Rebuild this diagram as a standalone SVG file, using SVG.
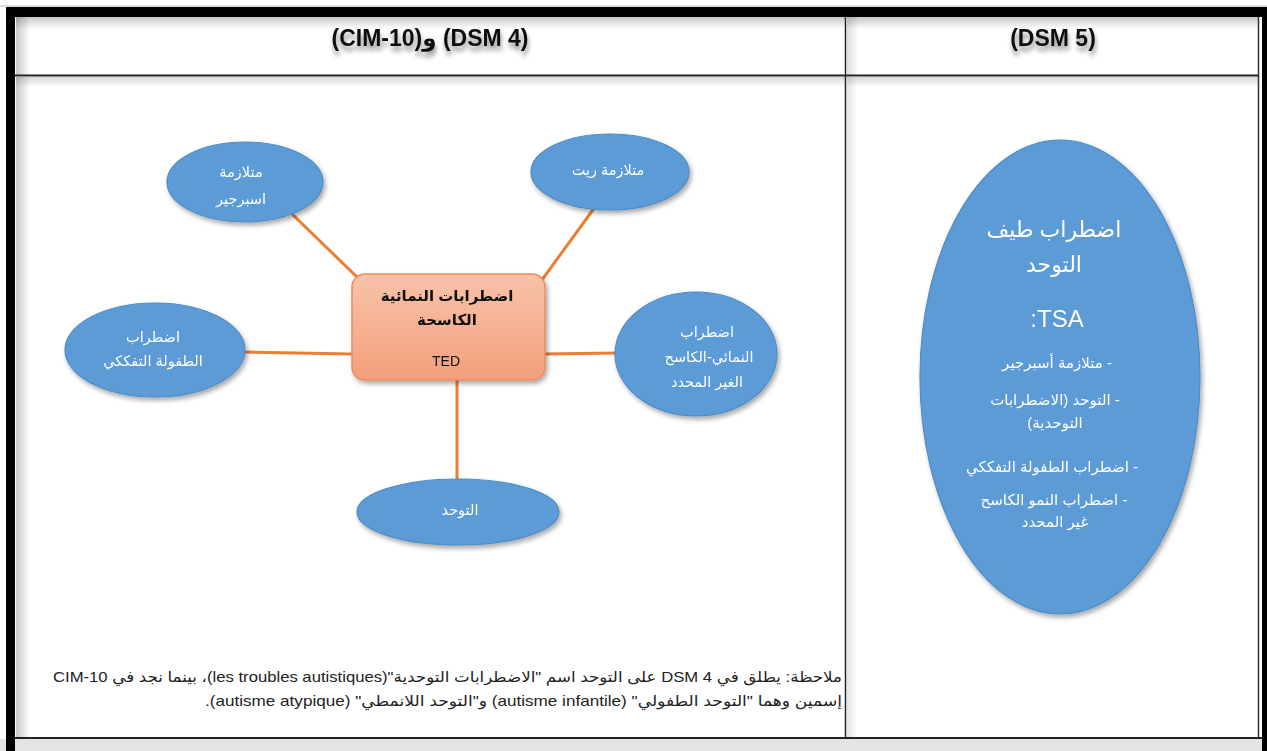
<svg xmlns="http://www.w3.org/2000/svg" width="1267" height="751" viewBox="0 0 1267 751">
  <style>
    .ar { font-family: "Liberation Sans", "DejaVu Sans", sans-serif; }
    .hdr { font-family: "Liberation Sans", "DejaVu Sans", sans-serif; font-weight: bold; font-size: 23px; fill: #111; }
    .bubble { fill: #5b9bd5; stroke: #4f8cc6; stroke-width: 1.2; }
    .btxt { font-family: "Liberation Sans", "DejaVu Sans", sans-serif; font-size: 14.5px; fill: #ffffff; text-anchor: middle; }
    .big { font-family: "Liberation Sans", "DejaVu Sans", sans-serif; fill: #ffffff; text-anchor: middle; }
    .link { stroke: #ed7d31; stroke-width: 3; fill: none; }
    .note { font-family: "Liberation Sans", "DejaVu Sans", sans-serif; font-size: 15px; fill: #222; }
  </style>
  <defs>
    <linearGradient id="rectFill" x1="0" y1="0" x2="0" y2="1">
      <stop offset="0" stop-color="#f8c3aa"/>
      <stop offset="1" stop-color="#f39f7b"/>
    </linearGradient>
    <linearGradient id="shadeLeft" x1="0" y1="0" x2="1" y2="0">
      <stop offset="0" stop-color="#000" stop-opacity="0.22"/>
      <stop offset="1" stop-color="#000" stop-opacity="0"/>
    </linearGradient>
    <linearGradient id="shadeTop" x1="0" y1="0" x2="0" y2="1">
      <stop offset="0" stop-color="#000" stop-opacity="0.22"/>
      <stop offset="1" stop-color="#000" stop-opacity="0"/>
    </linearGradient>
    <filter id="drop" x="-20%" y="-20%" width="150%" height="150%">
      <feGaussianBlur in="SourceAlpha" stdDeviation="2.5"/>
      <feOffset dx="2" dy="3" result="b"/>
      <feComponentTransfer><feFuncA type="linear" slope="0.35"/></feComponentTransfer>
      <feMerge><feMergeNode/><feMergeNode in="SourceGraphic"/></feMerge>
    </filter>
    <filter id="textShadow" x="-10%" y="-50%" width="120%" height="220%">
      <feGaussianBlur in="SourceAlpha" stdDeviation="2.5"/>
      <feOffset dx="1" dy="5"/>
      <feComponentTransfer><feFuncA type="linear" slope="0.45"/></feComponentTransfer>
      <feMerge><feMergeNode/><feMergeNode in="SourceGraphic"/></feMerge>
    </filter>
  </defs>

  <!-- page -->
  <rect x="0" y="0" width="1267" height="751" fill="#ffffff"/>

  <!-- table frame -->
  <g id="table">
    <rect x="0" y="739" width="1267" height="12" fill="#e4e4e4"/>
    <!-- soft inner shading of the cells -->
    <rect x="16" y="17" width="14" height="58" fill="url(#shadeLeft)"/>
    <rect x="16" y="17" width="829" height="12" fill="url(#shadeTop)"/>
    <rect x="847" y="17" width="12" height="58" fill="url(#shadeLeft)" opacity="0.6"/>
    <rect x="847" y="17" width="411" height="12" fill="url(#shadeTop)"/>
    <rect x="16" y="77" width="14" height="660" fill="url(#shadeLeft)"/>
    <rect x="16" y="77" width="829" height="10" fill="url(#shadeTop)" opacity="0.7"/>
    <rect x="847" y="77" width="10" height="660" fill="url(#shadeLeft)" opacity="0.5"/>
    <rect x="847" y="77" width="411" height="10" fill="url(#shadeTop)" opacity="0.7"/>
    <!-- outer heavy border -->
    <line x1="0" y1="6" x2="1267" y2="6" stroke="#bdbdbd" stroke-width="1"/>
    <rect x="6" y="7" width="1261" height="10" fill="#000"/>
    <rect x="6" y="7" width="9" height="744" fill="#000"/>
    <rect x="1262" y="7" width="5" height="744" fill="#000"/>
    <line x1="1258.5" y1="17" x2="1258.5" y2="739" stroke="#333" stroke-width="1.5"/>
    <!-- rules -->
    <line x1="15" y1="75.5" x2="1259" y2="75.5" stroke="#222" stroke-width="2"/>
    <line x1="845.5" y1="17" x2="845.5" y2="738" stroke="#222" stroke-width="1.5"/>
    <line x1="15" y1="738" x2="1262" y2="738" stroke="#222" stroke-width="2"/>
  </g>

  <!-- column headings -->
  <g id="headings" filter="url(#textShadow)">
    <text class="hdr" x="430" y="46" text-anchor="middle" direction="rtl">(DSM 4) و(CIM-10)</text>
    <text class="hdr" x="1053" y="46" text-anchor="middle">(DSM 5)</text>
  </g>

  <!-- connectors from the central box -->
  <g id="connectors">
    <line class="link" x1="358" y1="278" x2="292" y2="214"/>
    <line class="link" x1="539" y1="284" x2="595" y2="207"/>
    <line class="link" x1="244" y1="352" x2="352" y2="354"/>
    <line class="link" x1="545" y1="354" x2="617" y2="353"/>
    <line class="link" x1="457" y1="380" x2="457" y2="481"/>
  </g>

  <!-- central node -->
  <g id="ted" filter="url(#drop)">
    <rect x="352" y="274" width="193" height="106" rx="13" fill="url(#rectFill)" stroke="#f08a5d" stroke-width="1.5"/>
    <text class="ar" x="447" y="301" text-anchor="middle" font-size="15" font-weight="bold" fill="#111" direction="rtl">اضطرابات النمائية</text>
    <text class="ar" x="447" y="325" text-anchor="middle" font-size="15" font-weight="bold" fill="#111" direction="rtl">الكاسحة</text>
    <text class="ar" x="446" y="366" text-anchor="middle" font-size="14" fill="#111">TED</text>
  </g>

  <!-- surrounding nodes -->
  <g id="asperger" filter="url(#drop)">
    <ellipse class="bubble" cx="245" cy="182" rx="78" ry="40"/>
    <text class="btxt" x="241" y="177" direction="rtl">متلازمة</text>
    <text class="btxt" x="241" y="204" direction="rtl">اسبرجير</text>
  </g>

  <g id="rett" filter="url(#drop)">
    <ellipse class="bubble" cx="610" cy="172" rx="79" ry="38"/>
    <text class="btxt" x="608" y="175" direction="rtl">متلازمة ريت</text>
  </g>

  <g id="cdd" filter="url(#drop)">
    <ellipse class="bubble" cx="155" cy="350" rx="90" ry="47"/>
    <text class="btxt" x="153" y="342" direction="rtl">اضطراب</text>
    <text class="btxt" x="153" y="366" direction="rtl">الطفولة التفككي</text>
  </g>

  <g id="pddnos" filter="url(#drop)">
    <ellipse class="bubble" cx="696" cy="354" rx="81" ry="62"/>
    <text class="btxt" x="707" y="337" direction="rtl">اضطراب</text>
    <text class="btxt" x="709" y="362" direction="rtl">النمائي-الكاسح</text>
    <text class="btxt" x="707" y="387" direction="rtl">الغير المحدد</text>
  </g>

  <g id="autism" filter="url(#drop)">
    <ellipse class="bubble" cx="458" cy="512" rx="101" ry="33"/>
    <text class="btxt" x="460" y="515" direction="rtl">التوحد</text>
  </g>

  <!-- DSM 5 node -->
  <g id="tsa" filter="url(#drop)">
    <ellipse class="bubble" cx="1060" cy="377" rx="140" ry="237"/>
    <text class="big" x="1054" y="237" font-size="22" direction="rtl">اضطراب طيف</text>
    <text class="big" x="1054" y="272" font-size="22" direction="rtl">التوحد</text>
    <text class="big" x="1057" y="327" font-size="24" direction="rtl">TSA:</text>
    <text class="big" x="1057" y="368" font-size="15" direction="rtl">-  متلازمة أسبرجير</text>
    <text class="big" x="1055" y="405" font-size="15" direction="rtl">- التوحد (الاضطرابات</text>
    <text class="big" x="1055" y="428" font-size="15" direction="rtl">التوحدية)</text>
    <text class="big" x="1052" y="472" font-size="15" direction="rtl">- اضطراب الطفولة التفككي</text>
    <text class="big" x="1054" y="505" font-size="15" direction="rtl">- اضطراب النمو الكاسح</text>
    <text class="big" x="1055" y="527" font-size="15" direction="rtl">غير المحدد</text>
  </g>

  <!-- footnote -->
  <g id="note">
    <text class="note" x="842" y="682" text-anchor="start" direction="rtl" textLength="789" lengthAdjust="spacingAndGlyphs">ملاحظة: يطلق في DSM 4 على التوحد اسم "الاضطرابات التوحدية"(les troubles autistiques)، بينما نجد في CIM-10</text>
    <text class="note" x="842" y="706" text-anchor="start" direction="rtl" textLength="637" lengthAdjust="spacingAndGlyphs">إسمين وهما "التوحد الطفولي" (autisme infantile) و"التوحد اللانمطي" (autisme atypique).</text>
  </g>
</svg>
